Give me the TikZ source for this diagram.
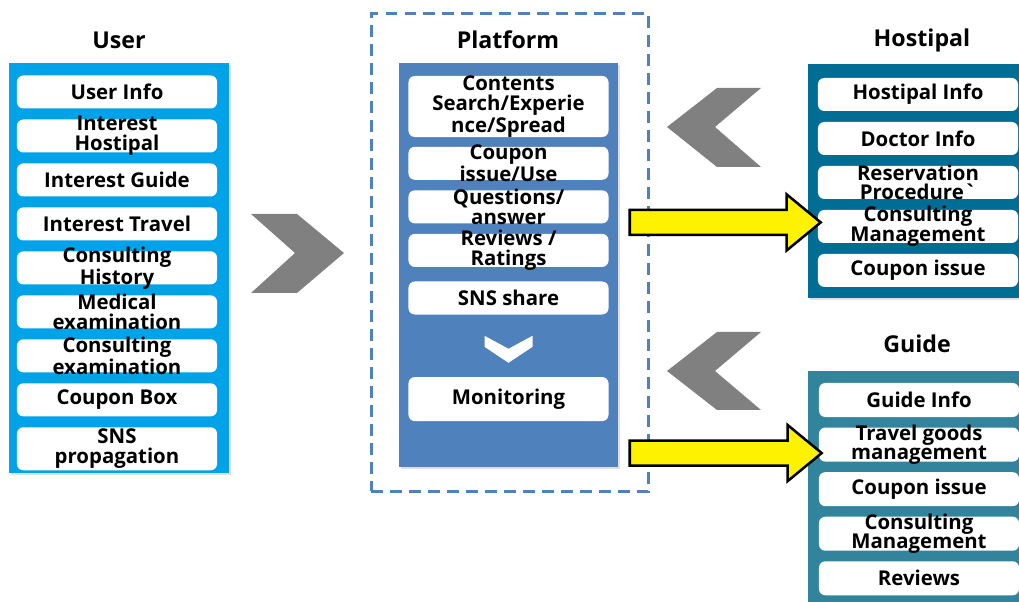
\documentclass[tikz,border=0pt]{standalone}
\usepackage{fontspec}
\setmainfont{Open Sans}
\usetikzlibrary{positioning, calc, shadows}
\definecolor{userblue}{RGB}{0,162,232}
\definecolor{platblue}{RGB}{79,129,189}
\definecolor{hospblue}{RGB}{0,109,148}
\definecolor{guideteal}{RGB}{49,132,155}
\definecolor{chevgray}{RGB}{128,128,128}
\tikzstyle{panel} = [rectangle, anchor=north west, inner sep=0pt, drop shadow={shadow xshift=1.5pt, shadow yshift=-1.5pt, opacity=0.25}]
\tikzstyle{item} = [rectangle, rounded corners=4.5pt, fill=white, minimum width=5cm, minimum height=0.825cm, inner sep=0pt]
\tikzstyle{txt} = [align=center, inner sep=0pt, font=\bfseries\fontsize{14.5}{14}\selectfont]
\tikzstyle{title} = [font=\bfseries\fontsize{16.5}{18}\selectfont]
\tikzstyle{chevron} = [fill=chevgray]
\tikzstyle{yarrow} = [fill=yellow, draw=black, line width=1.8pt, line join=miter]

\begin{document}
\begin{tikzpicture}[x=0.025cm, y=-0.025cm, node distance=0.26cm]
	\clip (0,0) rectangle (1019,602);
	% User
	\node (usert) [title] at (119,40) {User};
	\node (userp) [panel, fill=userblue, minimum width=5.5cm, minimum height=10.25cm] at (9,63) {};
	\node (u1) [item, label={[txt]center:User Info}] at (117,92) {};
	\node (u2) [item, below=of u1, label={[txt]center:{Interest\\Hostipal}}] {};
	\node (u3) [item, below=of u2, label={[txt]center:Interest Guide}] {};
	\node (u4) [item, below=of u3, label={[txt]center:Interest Travel}] {};
	\node (u5) [item, below=of u4, label={[txt]center:{Consulting\\History}}] {};
	\node (u6) [item, below=of u5, label={[txt]center:{Medical\\examination}}] {};
	\node (u7) [item, below=of u6, label={[txt]center:{Consulting\\examination}}] {};
	\node (u8) [item, below=of u7, label={[txt]center:Coupon Box}] {};
	\node (u9) [item, below=of u8, minimum height=1.075cm, label={[txt]center:{SNS\\propagation}}] {};
	\fill [chevron] (251,214) -- (297,214) -- (344,253) -- (297,293) -- (251,293) -- (295,253) -- cycle;

	% Platform
	\node (platbox) [rectangle, draw=platblue, dash pattern=on 8.5pt off 5pt, line width=1.9pt, anchor=north west, minimum width=6.925cm, minimum height=11.95cm, inner sep=0pt] at (370,12) {};
	\node (platt) [title] at (508,40) {Platform};
	\node (platp) [panel, fill=platblue, minimum width=5.475cm, minimum height=10.1cm] at (399,63) {};
	\node (pcont) [item, minimum height=1.525cm, label={[txt]center:{Contents\\Search/Experie\\nce/Spread}}] at (508.5,106.5) {};
	\node (pcoup) [item, below=0.23cm of pcont, label={[txt]center:{Coupon\\issue/Use}}] {};
	\node (pques) [item, below=0.25cm of pcoup, label={[txt]center:{Questions/\\answer}}] {};
	\node (prev) [item, below=0.25cm of pques, label={[txt]center:{Reviews /\\Ratings}}] {};
	\node (psns) [item, below=0.35cm of prev, label={[txt]center:SNS share}] {};
	\node (pmon) [item, below=1.55cm of psns, minimum height=1.1cm, label={[txt]center:Monitoring}] {};
	\coordinate (pmid) at ($(psns.south)!0.5!(pmon.north)$);
	\fill [white] ($(pmid)+(-24,-10)$) -- ($(pmid)+(-24,1)$) -- ($(pmid)+(0,17)$) -- ($(pmid)+(24,1)$) -- ($(pmid)+(24,-10)$) -- ($(pmid)+(0,3)$) -- cycle;

	% Hostipal
	\node (hospt) [title] at (922,40) {Hostipal};
	\node (hospp) [panel, fill=hospblue, minimum width=5.55cm, minimum height=5.85cm] at (808,64) {};
	\node (hinfo) [item, label={[txt]center:Hostipal Info}] at (918,94.5) {};
	\node (hdoc) [item, below=of hinfo, label={[txt]center:Doctor Info}] {};
	\node (hres) [item, below=of hdoc, label={[txt]center:{Reservation\\Procedure\textasciigrave}}] {};
	\node (hcons) [item, below=of hres, label={[txt]center:{Consulting\\Management}}] {};
	\node (hcoup) [item, below=of hcons, label={[txt]center:Coupon issue}] {};
	\fill [chevron] (667,127) -- (717,88) -- (761,88) -- (715,127) -- (761,167) -- (717,167) -- cycle;

	% Guide
	\node (guidet) [title] at (917,344) {Guide};
	\node (guidep) [panel, fill=guideteal, minimum width=5.55cm, minimum height=5.975cm] at (808,371) {};
	\node (ginfo) [item, minimum height=0.85cm, label={[txt]center:Guide Info}] at (919,400) {};
	\node (gtrav) [item, minimum height=0.85cm, below=0.25cm of ginfo, label={[txt]center:{Travel goods\\management}}] {};
	\node (gcoup) [item, minimum height=0.85cm, below=0.25cm of gtrav, label={[txt]center:Coupon issue}] {};
	\node (gcons) [item, minimum height=0.85cm, below=0.25cm of gcoup, label={[txt]center:{Consulting\\Management}}] {};
	\node (grev) [item, minimum height=0.85cm, below=0.25cm of gcons, label={[txt]center:Reviews}] {};
	\fill [chevron] (667,371) -- (717,332) -- (761,332) -- (715,371) -- (761,410) -- (717,410) -- cycle;

	% yellow arrows
	\coordinate (tipH) at ($(hcons.west)+(3,-4)$);
	\coordinate (tailH0) at (tipH -| platbox.east);
	\coordinate (tailH) at ($(tailH0)+(-20,0)$);
	\draw [yarrow] ($(tailH)+(0,-12.5)$) -- ($(tipH)+(-34,-12.5)$) -- ($(tipH)+(-34,-28)$) -- (tipH) -- ($(tipH)+(-34,28)$) -- ($(tipH)+(-34,12.5)$) -- ($(tailH)+(0,12.5)$) -- cycle;
	\coordinate (tipG) at ($(gtrav.west)+(3,8.5)$);
	\coordinate (tailG0) at (tipG -| platbox.east);
	\coordinate (tailG) at ($(tailG0)+(-20,0)$);
	\draw [yarrow] ($(tailG)+(0,-12.5)$) -- ($(tipG)+(-34,-12.5)$) -- ($(tipG)+(-34,-28)$) -- (tipG) -- ($(tipG)+(-34,28)$) -- ($(tipG)+(-34,12.5)$) -- ($(tailG)+(0,12.5)$) -- cycle;
\end{tikzpicture}
\end{document}
